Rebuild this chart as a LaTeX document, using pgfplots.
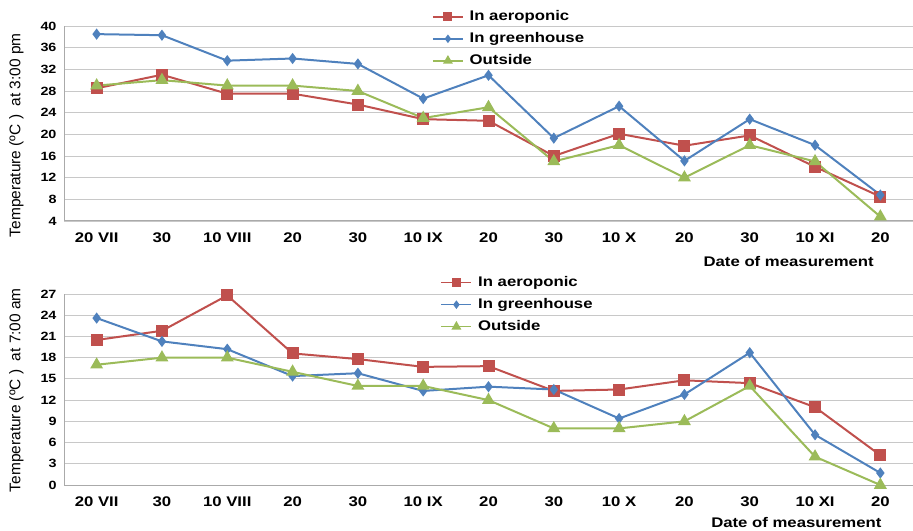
\documentclass[border=0pt]{standalone}
\usepackage{fontspec}
\setmainfont{Liberation Sans}[FakeStretch=1.2]
\newfontfamily\ylabfont{Liberation Sans}
\usepackage{pgfplots}
\pgfplotsset{compat=1.18}

\definecolor{xlred}{HTML}{C0504D}
\definecolor{xlblue}{HTML}{4F81BD}
\definecolor{xlgreen}{HTML}{9BBB59}
\definecolor{gridgray}{HTML}{C8C8C8}

\pgfplotsset{
  tempaxis/.style={
    scale only axis, width=849bp,
    xmin=-0.5, xmax=12.5,
    xtick={0,...,12},
    xticklabels={20 VII,30,10 VIII,20,30,10 IX,20,30,10 X,20,30,10 XI,20},
    axis x line*=bottom, axis y line*=left,
    axis line style={-, gridgray!85!black, line width=1bp},
    ymajorgrids, grid style={gridgray, line width=0.8bp},
    major tick length=0pt,
    xticklabel style={font=\bfseries\fontsize{14}{14}\selectfont, yshift=-8bp},
    yticklabel style={font=\bfseries\fontsize{12}{12}\selectfont, xshift=-4bp},
    /pgf/number format/assume math mode=true,
    clip=false,
    xlabel={Date of measurement},
    label style={font=\bfseries\fontsize{14}{14}\selectfont},
    ylabel style={font=\ylabfont\fontsize{15.5}{16}\selectfont, anchor=center},
    legend cell align=left,
    legend style={draw=none, fill=none, inner sep=2bp, row sep=7bp,
      font=\bfseries\fontsize{14}{14}\selectfont,
      nodes={inner sep=1bp, text height=10bp, text depth=3bp},
      /tikz/every odd column/.append style={column sep=5bp}},
    legend image code/.code={\draw[mark repeat=2,mark phase=2,##1,
      line width=1.6bp, mark options={scale=0.75}]
      plot coordinates {(0bp,0bp) (15bp,0bp) (30bp,0bp)};},
  },
  aero/.style={xlred, line width=2bp, mark=square*, mark size=5bp},
  green/.style={xlblue, line width=2bp, mark=diamond*, mark size=4bp},
  outs/.style={xlgreen, line width=2bp, mark=triangle*, mark size=5.5bp},
}

\begin{document}
\begin{tikzpicture}
\path[use as bounding box] (0,0) rectangle (913bp,-531bp);

% 3:00 pm
\begin{axis}[tempaxis,
  at={(64bp,-26bp)}, anchor=north west, height=195bp,
  ymin=4, ymax=40, ytick={4,8,...,40},
  ylabel={Temperature (ºC )\ \ at 3:00 pm},
  ylabel style={at={(axis description cs:-0.056,0.44)}},
  xlabel style={at={(axis description cs:0.958,-0.21)}, anchor=east},
  legend style={at={(axis description cs:0.431,1.097)}, anchor=north west},
]
\addplot[aero] coordinates {
  (0,28.5) (1,31) (2,27.5) (3,27.5) (4,25.5) (5,22.8) (6,22.5)
  (7,16) (8,20.1) (9,17.9) (10,19.8) (11,14) (12,8.5)};
\addplot[green] coordinates {
  (0,38.5) (1,38.3) (2,33.6) (3,34) (4,33) (5,26.6) (6,30.9)
  (7,19.3) (8,25.2) (9,15.1) (10,22.8) (11,18) (12,8.8)};
\addplot[outs] coordinates {
  (0,29) (1,30) (2,29) (3,29) (4,28) (5,23) (6,25)
  (7,15) (8,18) (9,12) (10,18) (11,15) (12,4.8)};
\legend{In aeroponic, In greenhouse, Outside}
\end{axis}

% 7:00 am
\begin{axis}[tempaxis,
  at={(64bp,-294bp)}, anchor=north west, height=191bp,
  ymin=0, ymax=27, ytick={0,3,...,27},
  ylabel={Temperature (ºC )\ \ at 7:00 am},
  ylabel style={at={(axis description cs:-0.056,0.497)}},
  xlabel style={at={(axis description cs:0.967,-0.194)}, anchor=east},
  legend style={at={(axis description cs:0.441,1.110)}, anchor=north west},
]
\addplot[aero] coordinates {
  (0,20.5) (1,21.8) (2,26.8) (3,18.6) (4,17.8) (5,16.7) (6,16.8)
  (7,13.3) (8,13.5) (9,14.8) (10,14.4) (11,11) (12,4.2)};
\addplot[green] coordinates {
  (0,23.6) (1,20.3) (2,19.2) (3,15.4) (4,15.8) (5,13.3) (6,13.9)
  (7,13.5) (8,9.4) (9,12.8) (10,18.7) (11,7.1) (12,1.7)};
\addplot[outs] coordinates {
  (0,17) (1,18) (2,18) (3,16) (4,14) (5,14) (6,12)
  (7,8) (8,8) (9,9) (10,14) (11,4) (12,0)};
\legend{In aeroponic, In greenhouse, Outside}
\end{axis}
\end{tikzpicture}
\end{document}
